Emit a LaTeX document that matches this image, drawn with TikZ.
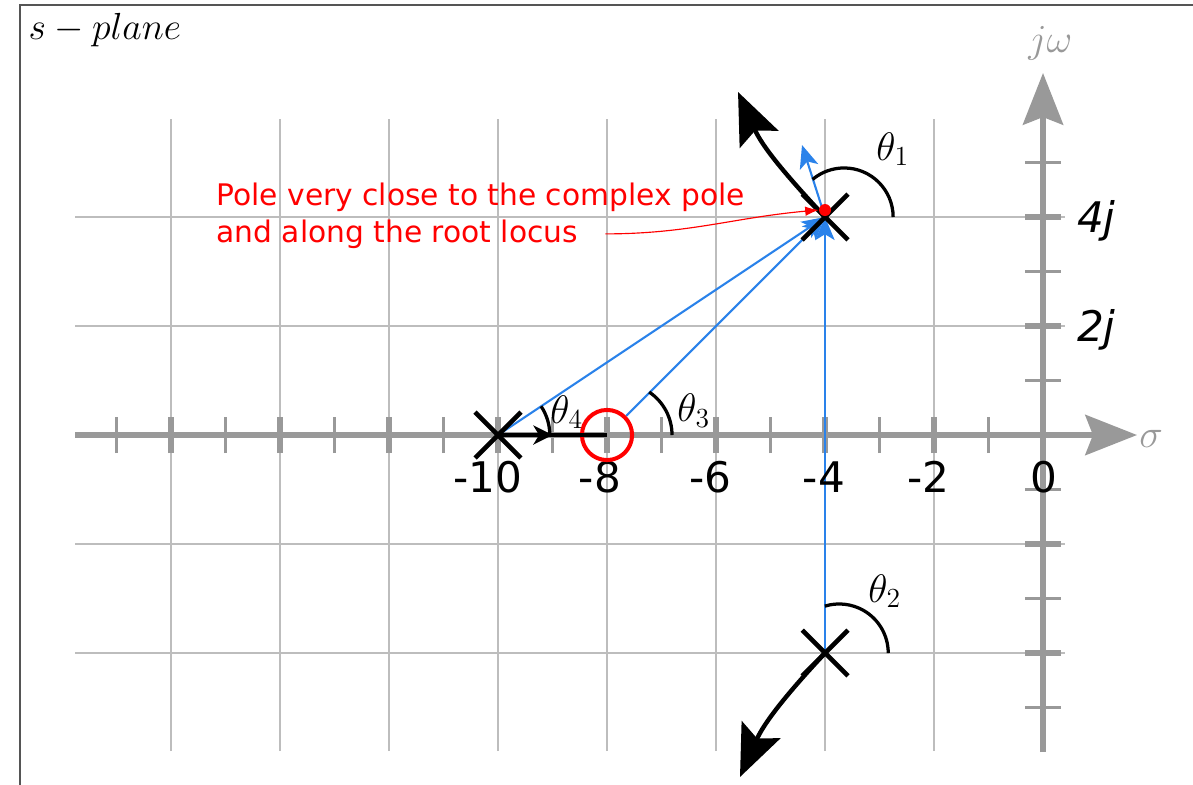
\documentclass[tikz,border=0pt]{standalone}
\usepackage{fontspec}
\newfontfamily\dv{DejaVu Sans}
\usetikzlibrary{arrows.meta,shapes.misc,calc}
\definecolor{axisgray}{HTML}{999999}
\definecolor{gridgray}{HTML}{BDBDBD}
\definecolor{locusblue}{HTML}{2A82EA}
\definecolor{framegray}{HTML}{555555}
\pgfdeclarelayer{back}
\pgfdeclarelayer{mid}
\pgfsetlayers{back,mid,main}
\begin{document}
\begin{tikzpicture}[x=1cm,y=1cm,
  gridline/.style={gridgray,line width=0.75pt},
  axisline/.style={axisgray,line width=2.8pt,-{Stealth[length=27pt,width=21pt,inset=4pt]}},
  minortick/.style={axisgray,line width=1.7pt},
  majortick/.style={axisgray,line width=2.8pt},
  polemark/.style={draw,cross out,line width=2.4pt,minimum size=0.84cm,inner sep=0pt,outer sep=0pt},
  zeromark/.style={draw=red,circle,line width=2.1pt,minimum size=0.92cm,inner sep=0pt},
  bluevec/.style={locusblue,line width=1.1pt,-{Stealth[length=12pt,width=10pt,inset=3pt]}},
  locusarrow/.style={line width=2.3pt,-{Stealth[length=27pt,width=22pt,inset=5pt]}},
  anglearc/.style={line width=1.7pt},
  ticklabel/.style={font=\dv\fontsize{22}{26}\selectfont,inner sep=0pt},
  mathlabel/.style={font=\fontsize{20}{24}\selectfont,inner sep=0pt},
  note/.style={font=\dv\fontsize{15.5}{19}\selectfont,text=red,inner sep=0pt},
]
\useasboundingbox (-19.138,-6.404) rectangle (2.752,7.982);

% frame
\draw[framegray,line width=1pt] (-18.771,-6.6) -- (-18.771,7.890) -- (2.95,7.890);

\begin{pgfonlayer}{back}
% grid
\foreach \x in {-16,-14,...,-2} \draw[gridline] (\x,-5.8) -- (\x,5.8);
\foreach \y in {-4,-2,2,4} \draw[gridline] (-17.76,\y) -- (0.4,\y);
% axes
\coordinate (sigL) at (-17.76,0);
\coordinate (sigR) at (1.725,0);
\coordinate (jwB) at (0,-5.817);
\coordinate (jwT) at (0,6.642);
\draw[axisline] (sigL) -- (sigR);
\draw[axisline] (jwB) -- (jwT);
\foreach \x in {-17,-15,...,-1} \draw[minortick] (\x,-0.33) -- (\x,0.33);
\foreach \x in {-16,-14,...,-2} \draw[majortick] (\x,-0.33) -- (\x,0.33);
\foreach \y in {-5,-3,-1,1,3,5} \draw[minortick] (-0.33,\y) -- (0.33,\y);
\foreach \y in {-4,-2,2,4} \draw[majortick] (-0.33,\y) -- (0.33,\y);
\end{pgfonlayer}

% axis labels
\node[mathlabel,anchor=base west,text=axisgray] (jw) at (-0.275,7.01) {$j\omega$};
\node[mathlabel,anchor=base west,text=axisgray] (sig) at (1.761,-0.22) {$\sigma$};
\node[mathlabel,anchor=base west] (title) at (-18.62,7.266) {\scalebox{0.95}{$s-plane$}};

% tick labels
\node[ticklabel,anchor=base] (l10) at (-10.19,-1.055) {-10};
\node[ticklabel,anchor=base] (l8) at (-8.13,-1.055) {-8};
\node[ticklabel,anchor=base] (l6) at (-6.11,-1.055) {-6};
\node[ticklabel,anchor=base] (l4) at (-4.02,-1.055) {-4};
\node[ticklabel,anchor=base] (l2) at (-2.11,-1.055) {-2};
\node[ticklabel,anchor=base] (l0) at (0.02,-1.055) {0};
\node[ticklabel,anchor=base west] (l4j) at (0.62,3.71) {\itshape 4j};
\node[ticklabel,anchor=base west] (l2j) at (0.62,1.71) {\itshape 2j};

% poles and zero
\node[polemark] (p1) at (-4,4) {};
\node[polemark] (p2) at (-4,-4) {};
\node[polemark] (p3) at (-10,0) {};
\node[zeromark] (z1) at (-8,0) {};

% blue vectors
\coordinate (dir) at (-4.422,5.321);
\begin{pgfonlayer}{mid}
\draw[bluevec] (p3.center) -- (p1.center);
\draw[bluevec] (z1.45) -- (p1.center);
\draw[bluevec] (p2.center) -- (p1.center);
\draw[bluevec] (p1.center) -- (dir);
\end{pgfonlayer}

% root locus branches
\coordinate (t1) at (-5.596,6.294);
\coordinate (t2) at (-5.56,-6.275);
\draw[locusarrow] (p1.center) to[out=133,in=-66] (t1);
\draw[locusarrow] (p2.center) to[out=-133,in=66] (t2);
\draw[line width=2.3pt] (p3.center) -- (z1.center);
\draw[line width=2.3pt,-{Stealth[length=10pt,width=10pt,inset=3pt]}] (p3.center) -- ($(p3.center)!0.5!(z1.center)$);

% angle arcs
\draw[anglearc] (-2.75,4) arc[start angle=0,end angle=130,radius=0.9];
\draw[anglearc] (-2.84,-4) arc[start angle=0,end angle=107,radius=0.9];
\draw[anglearc] (-6.807,0) arc[start angle=0,end angle=56,radius=0.95];
\draw[anglearc] (-9.05,0) arc[start angle=0,end angle=33.7,radius=0.95];
\node[mathlabel,anchor=base west] (th1) at (-3.064,5.046) {$\theta_1$};
\node[mathlabel,anchor=base west] (th2) at (-3.211,-3.064) {$\theta_2$};
\node[mathlabel,anchor=base west] (th3) at (-6.716,0.239) {$\theta_3$};
\node[mathlabel,anchor=base west] (th4) at (-9.046,0.22) {$\theta_4$};

% annotation
\node[note,anchor=base west] (n1) at (-15.17,4.22) {Pole very close to the complex pole};
\node[note,anchor=base west] (n2) at (-15.17,3.54) {and along the root locus};
\node[circle,fill=red,minimum size=0.22cm,inner sep=0pt] (rd) at (-4,4.128) {};
\draw[red,line width=0.6pt,-{Latex[length=7pt,width=5pt]}] ([xshift=0.5cm]n2.east) to[out=0,in=185] (rd.west);
\end{tikzpicture}
\end{document}
